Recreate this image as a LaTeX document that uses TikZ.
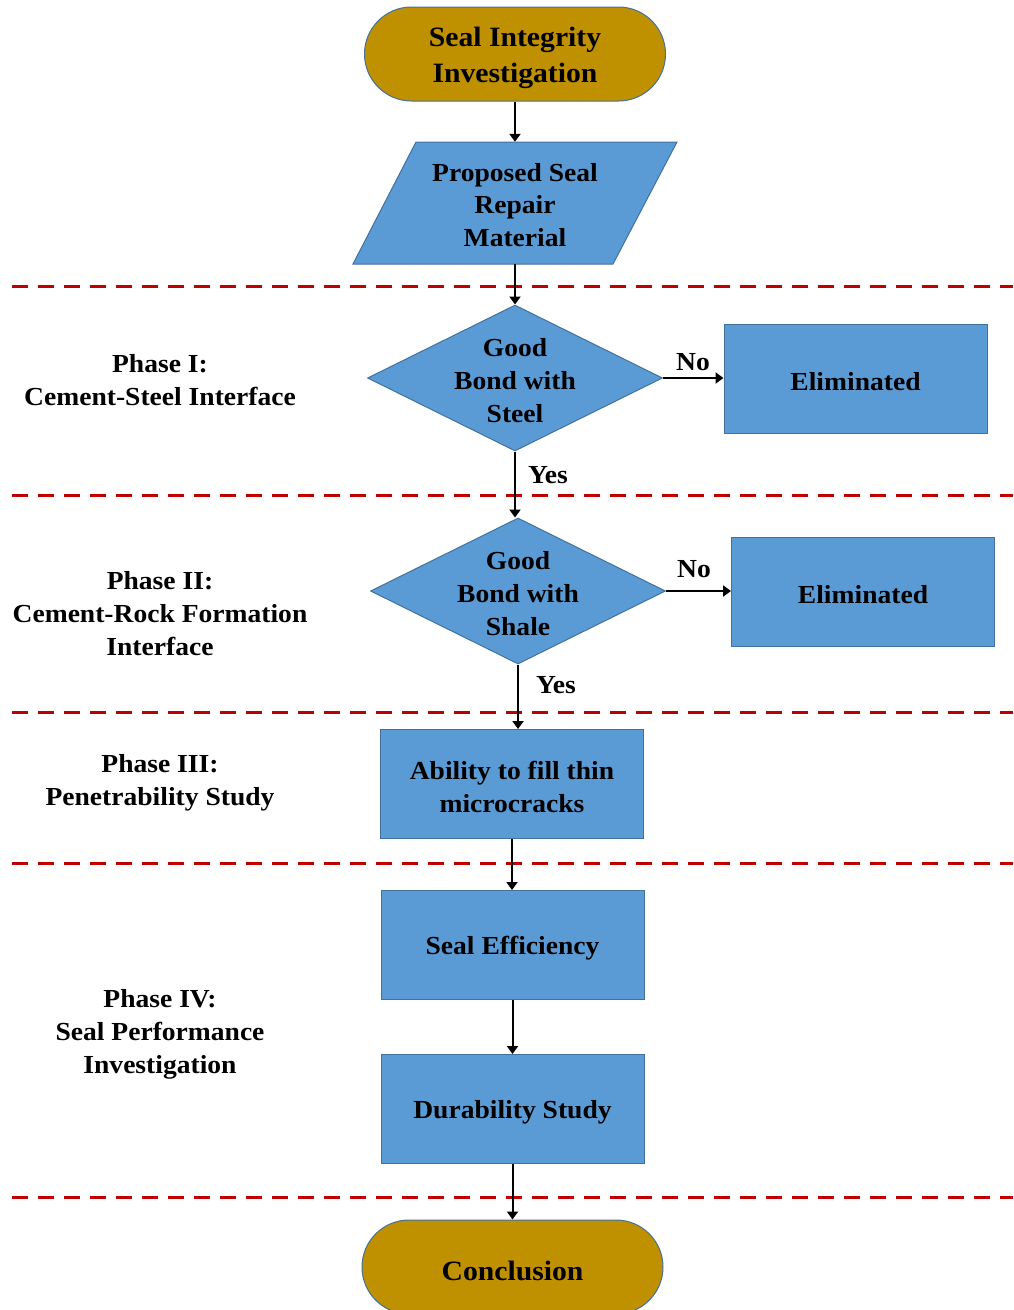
\documentclass[tikz,border=0pt]{standalone}
\usepackage{fontspec}
\setmainfont[FakeStretch=1.06]{Liberation Serif}
\usetikzlibrary{shapes.geometric,arrows.meta}
\definecolor{gold}{HTML}{BF9000}
\definecolor{blu}{HTML}{5B9BD5}
\definecolor{bordc}{HTML}{41719C}
\definecolor{sepred}{HTML}{C00000}
\begin{document}
\begin{tikzpicture}[x=1pt,y=-1pt,
  font=\bfseries\fontsize{26}{33}\selectfont,
  term/.style={draw=bordc, line width=1pt, fill=gold, rounded corners=47pt, minimum width=301pt, minimum height=94pt, inner sep=0pt},
  tlab/.style={align=center, inner sep=0pt, yshift=-4pt, font=\bfseries\fontsize{28}{36}\selectfont},
  proc/.style={draw=bordc, line width=1pt, fill=blu, minimum width=263pt, minimum height=109pt, inner sep=0pt},
  plab/.style={align=center, inner sep=0pt, yshift=-3pt},
  dec/.style={draw=bordc, line width=1pt, fill=blu, diamond, minimum width=295pt, minimum height=146pt, inner sep=0pt},
  dlab/.style={align=center, inner sep=0pt, yshift=-2.5pt},
  arr/.style={-{Triangle[length=8pt,width=11pt]}, line width=2pt},
  sepline/.style={draw=sepred, line width=3pt, dash pattern=on 16pt off 10pt},
  phase/.style={align=center},
  lbl/.style={inner sep=0pt}]
\useasboundingbox (0,0) rectangle (1013,1310);
\clip (0,0) rectangle (1013,1310);

% separators
\draw[sepline] (12,286) -- (1013,286);
\draw[sepline] (12,495) -- (1013,495);
\draw[sepline] (12,712) -- (1013,712);
\draw[sepline] (12,863) -- (1013,863);
\draw[sepline] (12,1197) -- (1013,1197);

% nodes
\node[term, label={[tlab]center:Seal Integrity\\Investigation}] (start) at (515,54) {};
\filldraw[draw=bordc, line width=1pt, fill=blu] (416,142) -- (677,142) -- (613,264) -- (353,264) -- cycle;
\node[minimum height=122pt, minimum width=200pt, inner sep=0pt, align=center, font=\bfseries\fontsize{26}{32.5}\selectfont] (prop) at (515,203) {};
\node[inner sep=0pt, align=center, font=\bfseries\fontsize{26}{32.5}\selectfont] (proptext) at (515,205) {Proposed Seal\\Repair\\Material};

\node[dec, label={[dlab]center:Good\\Bond with\\Steel}] (d1) at (515,378) {};
\node[proc, label={[plab]center:Eliminated}] (e1) at (855.5,378.5) {};

\node[dec, label={[dlab]center:Good\\Bond with\\Shale}] (d2) at (518,591) {};
\node[proc, label={[plab]center:Eliminated}] (e2) at (863,591.5) {};

\node[proc, label={[plab]center:Ability to fill thin\\microcracks}] (ab) at (512,784) {};
\node[proc, label={[plab]center:Seal Efficiency}] (se) at (512.5,945) {};
\node[proc, label={[plab]center:Durability Study}] (du) at (512.5,1109) {};
\node[term, label={[tlab]center:Conclusion}] (conc) at (512.5,1267) {};

% phase labels
\node[phase] (p1) at (160,380) {Phase I:\\Cement-Steel Interface};
\node[phase] (p2) at (160,613.5) {Phase II:\\Cement-Rock Formation\\Interface};
\node[phase] (p3) at (160,783) {Phase III:\\Penetrability Study};
\node[phase] (p4) at (160,1034.5) {Phase IV:\\Seal Performance\\Investigation};

% connectors
\draw[arr] (start.south) -- (prop.north);
\draw[arr] (prop.south) -- (d1.north);
\draw[arr] (d1.east) -- (d1.east -| e1.west);
\draw[arr] (d1.south) -- (d1.south |- d2.north);
\draw[arr] (d2.east) -- (d2.east -| e2.west);
\draw[arr] (d2.south) -- (d2.south |- ab.north);
\draw[arr] (ab.south) -- (ab.south |- se.north);
\draw[arr] (se.south) -- (se.south |- du.north);
\draw[arr] (du.south) -- (du.south |- conc.north);

% edge labels
\node[lbl] (no1) at (693,362) {No};
\node[lbl] (yes1) at (548,475) {Yes};
\node[lbl] (no2) at (694,569) {No};
\node[lbl] (yes2) at (556,685) {Yes};
\end{tikzpicture}
\end{document}
